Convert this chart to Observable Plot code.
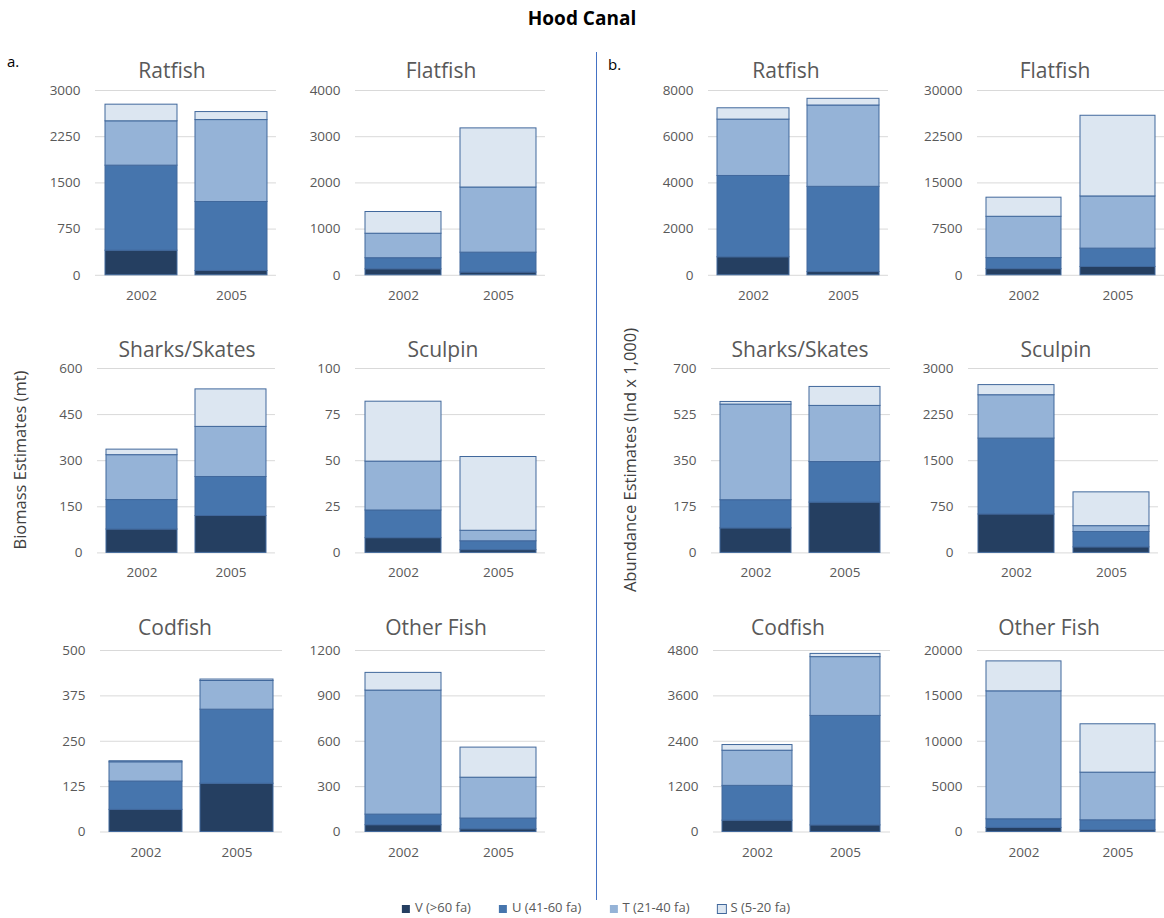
<!DOCTYPE html>
<html><head><meta charset="utf-8">
<script src="https://cdn.jsdelivr.net/npm/d3@7"></script>
<script src="https://cdn.jsdelivr.net/npm/@observablehq/plot@0.6"></script>
<style>
body{margin:0;background:#fff;font-family:"Open Sans",sans-serif;}
#root{position:relative;width:1164px;height:918px;overflow:hidden;background:#fff;}
.abs{position:absolute;}
.ttl{position:absolute;transform:translate(-50%,-50%);font-size:21px;color:#595959;white-space:nowrap;line-height:1;}
.ylab{position:absolute;transform:translate(-50%,-50%) rotate(-90deg);font-size:16.5px;color:#404040;white-space:nowrap;line-height:1;}
#legend{position:absolute;left:596px;top:907px;transform:translate(-50%,-50%);display:flex;gap:28px;font-size:13px;color:#595959;white-space:nowrap;}
#legend span.sw{display:inline-block;width:8px;height:8px;margin-right:5px;vertical-align:middle;}
</style></head>
<body><div id="root"></div>
<script>
// ---------- data ----------
const years = ["2002", "2005"];
const layers = ["V (>60 fa)", "U (41-60 fa)", "T (21-40 fa)", "S (5-20 fa)"];
const layerColors = ["#253F61", "#4675AD", "#95B3D7", "#DCE6F1"];
const species = ["Ratfish", "Flatfish", "Sharks/Skates", "Sculpin", "Codfish", "Other Fish"];

// Biomass (mt), per depth layer, species order as above
const biomassV2002 = [400, 130, 76, 8, 61, 45];
const biomassU2002 = [1380, 240, 96, 15, 78, 70];
const biomassT2002 = [720, 530, 146, 26.5, 53, 820];
const biomassS2002 = [270, 470, 18, 32.5, 3, 117];
const biomassV2005 = [70, 60, 120, 1.5, 133, 18];
const biomassU2005 = [1120, 430, 127, 4.8, 204, 71];
const biomassT2005 = [1330, 1410, 163, 5.7, 79, 270];
const biomassS2005 = [130, 1280, 122, 40, 4, 199];

// Abundance (Ind x 1,000)
const abundV2002 = [780, 1000, 93, 625, 300, 450];
const abundU2002 = [3520, 1800, 107, 1235, 920, 950];
const abundT2002 = [2440, 6700, 363, 705, 930, 14100];
const abundS2002 = [490, 3100, 10, 165, 150, 3300];
const abundV2005 = [140, 1350, 191, 90, 175, 190];
const abundU2005 = [3690, 2980, 154, 250, 2895, 1100];
const abundT2005 = [3520, 8470, 213, 95, 1555, 5250];
const abundS2005 = [290, 13100, 72, 550, 85, 5330];

// axis ticks per species
const biomassTicks = [
  [0, 750, 1500, 2250, 3000],
  [0, 1000, 2000, 3000, 4000],
  [0, 150, 300, 450, 600],
  [0, 25, 50, 75, 100],
  [0, 125, 250, 375, 500],
  [0, 300, 600, 900, 1200]
];
const abundTicks = [
  [0, 2000, 4000, 6000, 8000],
  [0, 7500, 15000, 22500, 30000],
  [0, 175, 350, 525, 700],
  [0, 750, 1500, 2250, 3000],
  [0, 1200, 2400, 3600, 4800],
  [0, 5000, 10000, 15000, 20000]
];

const biomassTable = {"2002": [biomassV2002, biomassU2002, biomassT2002, biomassS2002],
                      "2005": [biomassV2005, biomassU2005, biomassT2005, biomassS2005]};
const abundTable = {"2002": [abundV2002, abundU2002, abundT2002, abundS2002],
                    "2005": [abundV2005, abundU2005, abundT2005, abundS2005]};

// ---------- layout ----------
const root = document.getElementById("root");
const rowTop = [89.5, 368.3, 649.5];
const rowZero = [274.3, 552.7, 831];
// [gridLeft, gridRight, titleCenterX] per panel/column/row
const geo = {
  a: [
    [[95, 276, 172], [355, 545, 441]],
    [[97, 275, 187], [355, 545, 443]],
    [[100, 282, 175], [355, 545, 436]]
  ],
  b: [
    [[708, 888, 786], [977, 1165, 1055]],
    [[711, 890, 800], [968, 1158, 1056]],
    [[713, 890, 788], [977, 1165, 1049]]
  ]
};
const titleY = [70, 349, 627];

function addDiv(cls, text, x, y) {
  const d = document.createElement("div");
  d.className = cls; d.textContent = text;
  d.style.left = x + "px"; d.style.top = y + "px";
  root.appendChild(d);
  return d;
}

function chart(table, ticks, idx, g, r) {
  const [gl, gr] = g;
  const yt = rowTop[r], y0 = rowZero[r];
  const m = {l: 60, r: 4, t: 12, b: 40};
  const rows = years.flatMap(yr => layers.map((L, li) => ({year: yr, layer: L, value: table[yr][li][idx]})));
  const t = ticks[idx];
  const p = Plot.plot({
    width: (gr - gl) + m.l + m.r,
    height: (y0 - yt) + m.t + m.b,
    marginLeft: m.l, marginRight: m.r, marginTop: m.t, marginBottom: m.b,
    x: {domain: years, paddingInner: 0.2, paddingOuter: 0.1, label: null},
    y: {domain: [t[0], t[t.length - 1]], label: null},
    color: {domain: layers, range: layerColors},
    style: {fontFamily: "Open Sans", fontSize: "13.5px", color: "#595959", background: "transparent", overflow: "visible"},
    marks: [
      Plot.gridY(t, {stroke: "#d9d9d9", strokeOpacity: 1, strokeWidth: 1}),
      Plot.barY(rows, {x: "year", y: "value", fill: "layer", stroke: "#41689C", strokeWidth: 1}),
      Plot.axisY(t, {tickSize: 0, tickPadding: 15, tickFormat: d => String(d), fill: "#595959"}),
      Plot.axisX({tickSize: 0, tickPadding: 15, fill: "#595959"})
    ]
  });
  p.style.position = "absolute";
  p.style.left = (gl - m.l) + "px";
  p.style.top = (yt - m.t) + "px";
  root.appendChild(p);
}

for (let r = 0; r < 3; r++) {
  for (let c = 0; c < 2; c++) {
    const idx = r * 2 + c;
    const ga = geo.a[r][c], gb = geo.b[r][c];
    chart(biomassTable, biomassTicks, idx, ga, r);
    chart(abundTable, abundTicks, idx, gb, r);
    addDiv("ttl", species[idx], ga[2], titleY[r]);
    addDiv("ttl", species[idx], gb[2], titleY[r]);
  }
}

// title, panel letters, divider, y labels
const h = addDiv("ttl", "Hood Canal", 582, 18);
h.style.fontWeight = "bold"; h.style.fontSize = "19px"; h.style.color = "#000";
const la = addDiv("abs", "a.", 7, 51); la.style.fontSize = "15px"; la.style.color = "#000";
const lb = addDiv("abs", "b.", 608, 54); lb.style.fontSize = "15px"; lb.style.color = "#000";
const dv = document.createElement("div");
dv.className = "abs";
Object.assign(dv.style, {left: "596px", top: "52px", width: "1px", height: "848px", background: "#4472C4"});
root.appendChild(dv);
addDiv("ylab", "Biomass Estimates (mt)", 20, 460);
addDiv("ylab", "Abundance Estimates (Ind x 1,000)", 630, 460);

// legend
const lg = document.createElement("div");
lg.id = "legend";
layers.forEach((L, i) => {
  const it = document.createElement("div");
  const sw = document.createElement("span");
  sw.className = "sw"; sw.style.background = layerColors[i];
  if (i === 3) sw.style.outline = "1px solid #41689C";
  it.appendChild(sw);
  it.appendChild(document.createTextNode(L));
  lg.appendChild(it);
});
root.appendChild(lg);
</script>
</body></html>
